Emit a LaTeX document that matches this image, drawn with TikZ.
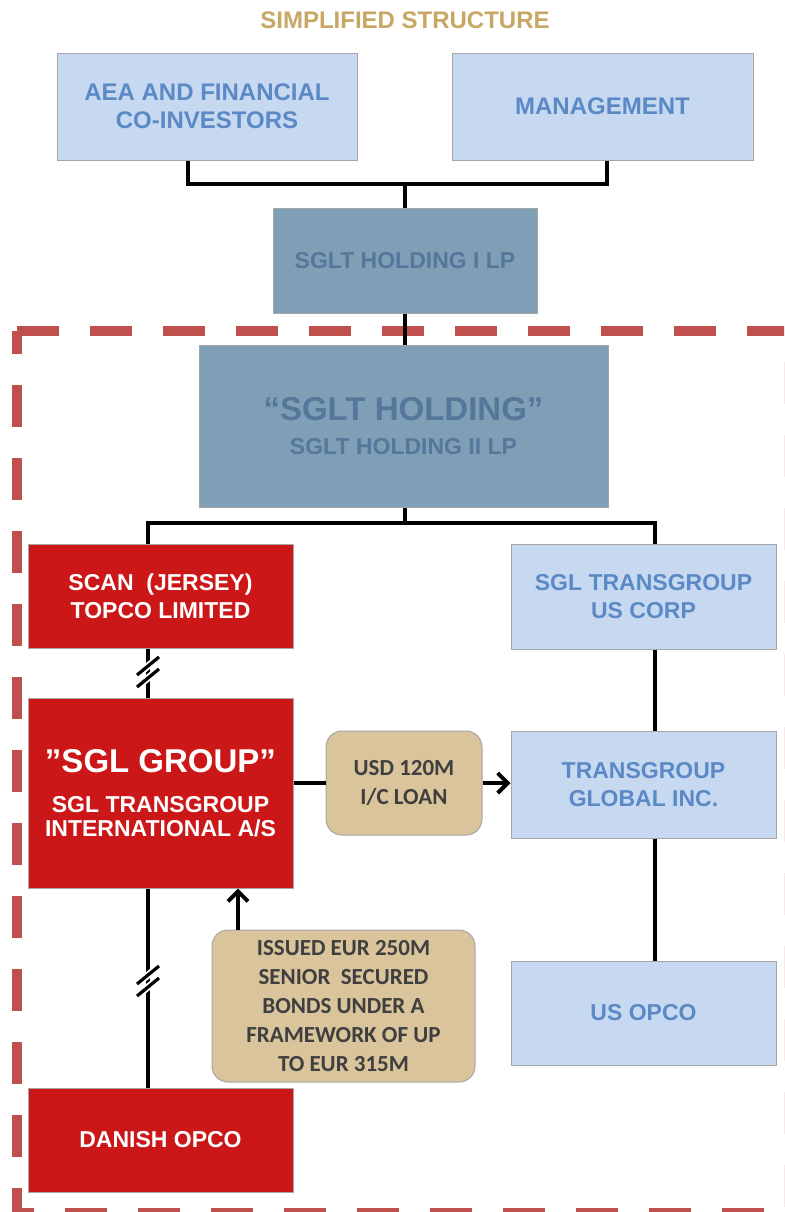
\documentclass[tikz,border=0pt]{standalone}
\usepackage{fontspec}
\setmainfont{Liberation Sans}
\newfontfamily\calfont{Carlito}
\usetikzlibrary{arrows.meta}
\definecolor{lblue}{HTML}{C6D9F1}
\definecolor{btext}{HTML}{5B89C6}
\definecolor{steel}{HTML}{7F9FB6}
\definecolor{stext}{HTML}{55779A}
\definecolor{redbox}{HTML}{CC1719}
\definecolor{tanfill}{HTML}{D9C49B}
\definecolor{tantext}{HTML}{3F3F3F}
\definecolor{gold}{HTML}{C8A664}
\definecolor{dashred}{HTML}{C0504D}
\definecolor{edgegray}{HTML}{A6A6A6}
\begin{document}
\begin{tikzpicture}[x=0.5pt,y=-0.5pt,
 base/.style={draw=edgegray, line width=0.5pt, align=center, inner sep=0pt, font=\bfseries\fontsize{11.5}{14}\selectfont},
 lbox/.style={base, fill=lblue, text=btext},
 sbox/.style={base, fill=steel, text=stext},
 rbox/.style={base, fill=redbox, text=white},
 tbox/.style={base, fill=tanfill, text=tantext, rounded corners=8pt, font=\calfont\bfseries\fontsize{11.5}{14.5}\selectfont},
 conn/.style={line width=2pt, draw=black},
 arr/.style={conn, -{Straight Barb[length=5pt,width=10pt]}},
 hashw/.style={draw=white, line width=3.5pt},
 hashb/.style={draw=black, line width=1.6pt},
 dashbox/.style={draw=dashred, line width=5pt, dash pattern=on 21pt off 15.5pt},
]
\useasboundingbox (0,0) rectangle (784,1212);
\clip (0,0) rectangle (784,1212);

% title
\node[font=\bfseries\fontsize{12}{14}\selectfont, text=gold] (title) at (405,20) {SIMPLIFIED STRUCTURE};

% dashed boundary
\draw[dashbox] (17,331) -- (789,331) -- (789,1213) -- (17,1213) -- cycle;

% boxes
\node[lbox, minimum width=150pt, minimum height=53.5pt, font=\bfseries\fontsize{12}{14}\selectfont] (aea) at (207,106.5) {AEA AND FINANCIAL\\CO-INVESTORS};
\node[lbox, minimum width=150.5pt, minimum height=53.5pt, font=\bfseries\fontsize{12}{14}\selectfont] (mgmt) at (602.5,106.5) {MANAGEMENT};
\node[sbox, minimum width=132pt, minimum height=52.5pt] (h1) at (405,260.5) {SGLT HOLDING I LP};
\node[sbox, minimum width=204.5pt, minimum height=81pt] (h2) at (403.5,426) {{\fontsize{16.5}{20}\selectfont “SGLT HOLDING”}\\[3pt]SGLT HOLDING II LP};
\node[rbox, minimum width=132.5pt, minimum height=52pt] (scan) at (160.5,596) {SCAN \ (JERSEY)\\TOPCO LIMITED};
\node[lbox, minimum width=132.5pt, minimum height=52.5pt] (uscorp) at (643.5,596.5) {SGL TRANSGROUP\\US CORP};
\node[rbox, minimum width=132.5pt, minimum height=95pt] (sglgroup) at (160.5,793) {{\fontsize{16.5}{20}\selectfont ”SGL GROUP”}\\[6pt]SGL TRANSGROUP\\[-2pt]INTERNATIONAL A/S};
\node[tbox, minimum width=78pt, minimum height=52pt] (loan) at (404,783) {USD 120M\\I/C LOAN};
\node[lbox, minimum width=132.5pt, minimum height=53.5pt] (tgg) at (643.5,784.5) {TRANSGROUP\\GLOBAL INC.};
\node[lbox, minimum width=132.5pt, minimum height=52pt] (usopco) at (643.5,1013) {US OPCO};
\node[tbox, minimum width=131.5pt, minimum height=76pt] (bonds) at (343.5,1006) {ISSUED EUR 250M\\SENIOR \ SECURED\\BONDS UNDER A\\FRAMEWORK OF UP\\TO EUR 315M};
\node[rbox, minimum width=132.5pt, minimum height=52pt] (danish) at (160.5,1140) {DANISH OPCO};

% junctions
\coordinate (j1) at (405,184);
\coordinate (j2) at (405,523);

% connectors
\draw[conn] ([xshift=-9.5pt]aea.south) |- (j1) -| ([xshift=2.25pt]mgmt.south);
\draw[conn] (j1) -- (h1.north);
\draw[conn] (h1.south) -- (h1.south |- h2.north);
\draw[conn] (h2.south -| j2) -- (j2);
\draw[conn] ([xshift=-6.25pt]scan.north) |- (j2) -| ([xshift=5.75pt]uscorp.north);
\draw[conn] ([xshift=-6.25pt]scan.south) -- coordinate[pos=0.5] (hs1) ([xshift=-6.25pt]sglgroup.north);
\draw[conn] ([xshift=-6.25pt]sglgroup.south) -- coordinate[pos=0.47] (hs2) ([xshift=-6.25pt]danish.north);
\draw[conn] ([xshift=5.75pt]uscorp.south) -- ([xshift=5.75pt]tgg.north);
\draw[conn] ([xshift=5.75pt]tgg.south) -- ([xshift=5.75pt]usopco.north);
\draw[conn] (sglgroup.east |- loan.west) -- (loan.west);
\draw[arr] (loan.east) -- (loan.east -| tgg.west);
\draw[arr] ([xshift=-52.75pt]bonds.north) -- ([xshift=-52.75pt]bonds.north |- sglgroup.south);

% break marks
\foreach \h in {hs1,hs2}{
  \draw[hashw] ([shift={(-11,2)}]\h) -- ++(22,-18);
  \draw[hashw] ([shift={(-11,14)}]\h) -- ++(22,-18);
  \draw[hashb] ([shift={(-11,2)}]\h) -- ++(22,-18);
  \draw[hashb] ([shift={(-11,14)}]\h) -- ++(22,-18);
}
\end{tikzpicture}
\end{document}
